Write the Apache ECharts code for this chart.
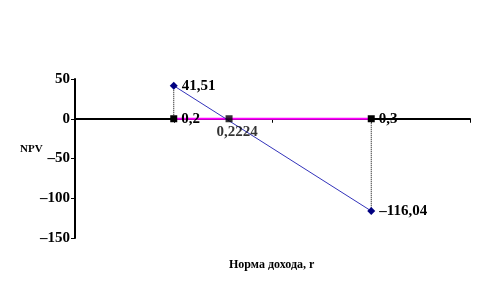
<!DOCTYPE html>
<html>
<head>
<meta charset="utf-8">
<script src="https://cdn.jsdelivr.net/npm/echarts@6/dist/echarts.min.js"></script>
<style>html,body{margin:0;padding:0;background:#fff;}#c{width:488px;height:290px;}</style>
</head>
<body>
<div id="c"></div>
<script>
// Data
var rates = [0.2, 0.3];
var npvValues = [41.51, -116.04];
var irrPoint = [0.228, 0];
var irrLabel = '0,2224';
var yTicks = [50, 0, -50, -100, -150];
var xAxisTitle = 'Норма дохода, r';
var yAxisTitle = 'NPV';

function fmt(v) { return String(v).replace('.', ',').replace('-', '–'); }

var FONT = '"Liberation Serif", "Times New Roman", serif';
var chart = echarts.init(document.getElementById('c'));
var labelStyle = { fontFamily: FONT, fontWeight: 'bold', fontSize: 15, color: '#000' };

chart.setOption({
  animation: false,
  backgroundColor: '#fff',
  title: [
    { text: yAxisTitle, left: 15, top: 139, textStyle: { fontFamily: FONT, fontWeight: 'bold', fontSize: 11, color: '#000' } },
    { text: xAxisTitle, left: 224, top: 254, textStyle: { fontFamily: FONT, fontWeight: 'bold', fontSize: 12, color: '#000' } }
  ],
  grid: { left: 75, right: 18, top: 79, bottom: 52, containLabel: false },
  xAxis: {
    type: 'value', min: 0.15, max: 0.35, interval: 0.05,
    axisLine: { onZero: true, lineStyle: { color: '#000', width: 2 } },
    axisTick: { show: true, inside: false, length: 4, lineStyle: { color: '#000', width: 1 } },
    axisLabel: { show: false },
    splitLine: { show: false }
  },
  yAxis: {
    type: 'value', min: -150, max: 50, interval: 50,
    axisLine: { show: true, lineStyle: { color: '#000', width: 2 } },
    axisTick: { show: true, length: 4, lineStyle: { color: '#000', width: 1 } },
    axisLabel: { fontFamily: FONT, fontWeight: 'bold', fontSize: 15, color: '#000', margin: 5,
      formatter: function (v) { return yTicks.indexOf(v) >= 0 ? fmt(v) : ''; } },
    splitLine: { show: false }
  },
  series: [
    {
      type: 'line', data: [[rates[0], npvValues[0]], [rates[0], 0]],
      symbol: 'none', lineStyle: { color: '#000', width: 1, type: [1, 1] }, z: 2
    },
    {
      type: 'line', data: [[rates[1], 0], [rates[1], npvValues[1]]],
      symbol: 'none', lineStyle: { color: '#000', width: 1, type: [1, 1] }, z: 2
    },
    {
      type: 'line', data: [[rates[0], 0], [rates[1], 0]],
      symbol: 'rect', symbolSize: 7,
      itemStyle: { color: '#000' },
      lineStyle: { color: '#ff00ff', width: 2 },
      label: { show: true, position: 'right', distance: 4, formatter: function (p) { return fmt(p.value[0]); }, ...labelStyle },
      z: 3
    },
    {
      type: 'line', data: [[rates[0], npvValues[0]], [rates[1], npvValues[1]]],
      symbol: 'diamond', symbolSize: 8,
      itemStyle: { color: '#000080' },
      lineStyle: { color: '#3333bb', width: 1 },
      label: { show: true, position: 'right', distance: 4, formatter: function (p) { return fmt(p.value[1]); }, ...labelStyle },
      z: 4
    },
    {
      type: 'scatter', data: [irrPoint],
      symbol: 'rect', symbolSize: 7,
      itemStyle: { color: '#000' },
      label: { show: true, position: 'bottom', distance: 2, offset: [8, 0], formatter: function () { return irrLabel; }, ...labelStyle },
      z: 5
    }
  ]
});
</script>
</body>
</html>
